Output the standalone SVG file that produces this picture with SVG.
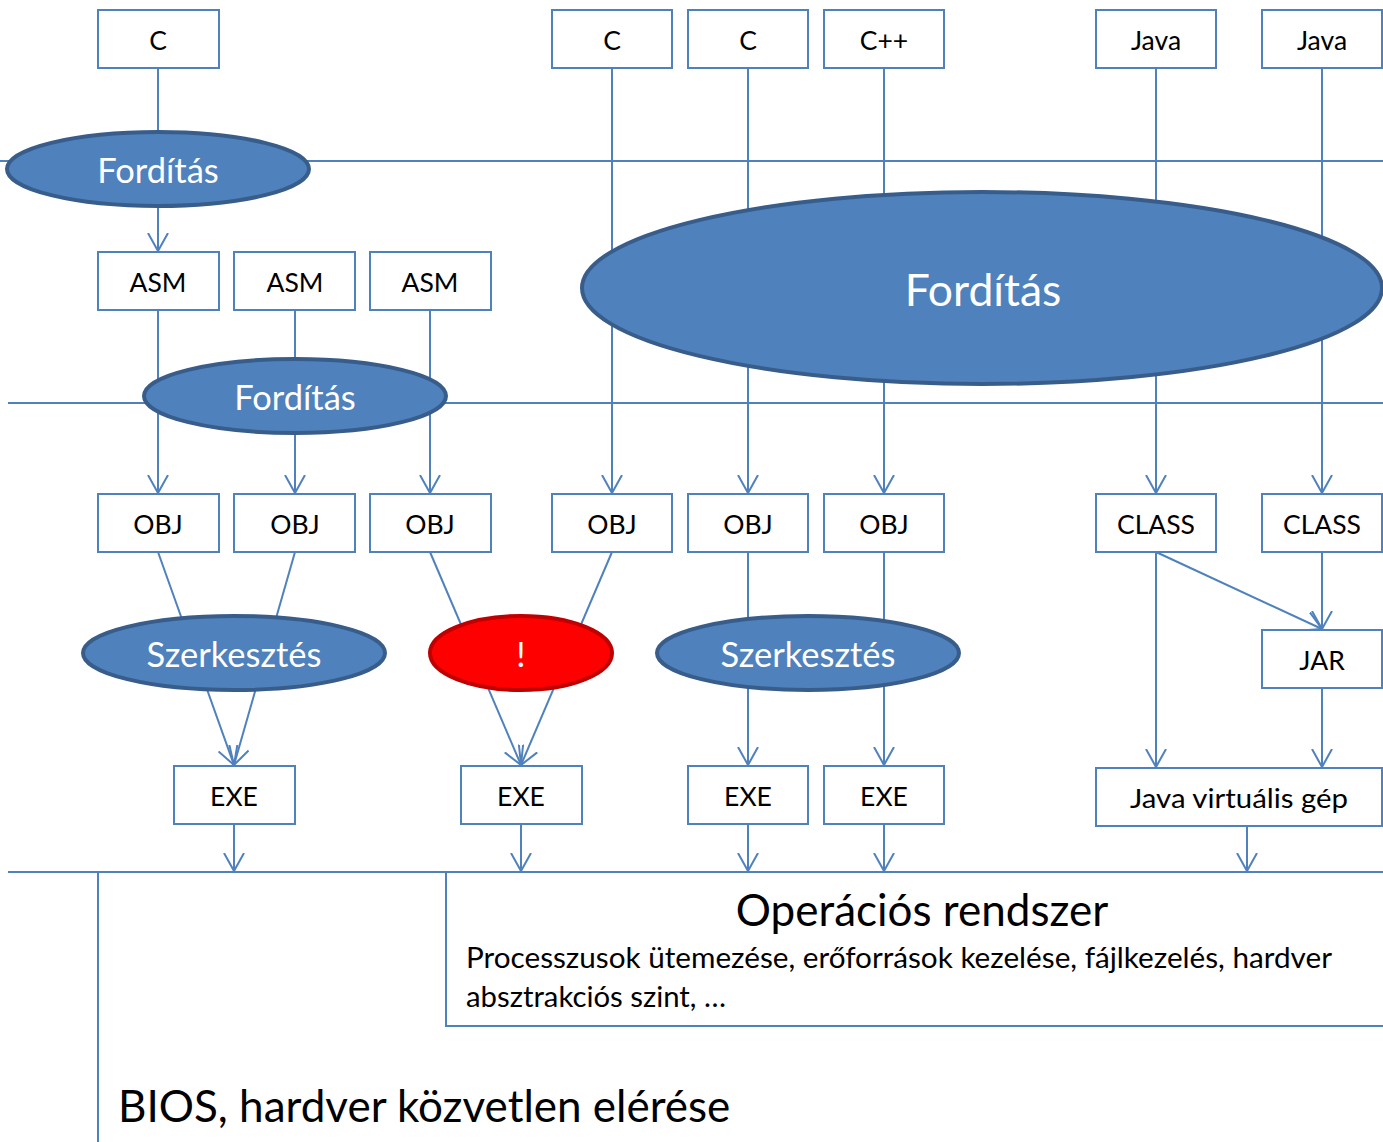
<svg xmlns="http://www.w3.org/2000/svg" width="1383" height="1142" viewBox="0 0 1383 1142">
<defs>
<style>
.box{fill:#fff;stroke:#4F81BD;stroke-width:2}
.bt{font-family:Lato,"Open Sans","Liberation Sans",sans-serif;font-size:26.5px;fill:#000;text-anchor:middle;dominant-baseline:central}
.el{fill:#4F81BD;stroke:#385D8A;stroke-width:4}
.red{fill:#FF0000;stroke:#C00000;stroke-width:4}
.et{font-family:Lato,"Open Sans","Liberation Sans",sans-serif;font-size:34.5px;fill:#fff;text-anchor:middle;dominant-baseline:central}
.ln{fill:none;stroke:#4F81BD;stroke-width:2}
.ar{fill:none;stroke:#4F81BD;stroke-width:2;marker-end:url(#a)}
.big{font-family:Lato,"Open Sans","Liberation Sans",sans-serif;fill:#000}
</style>
<marker id="a" viewBox="0 0 20 22" refX="18" refY="11" markerWidth="20" markerHeight="22" markerUnits="userSpaceOnUse" orient="auto">
<path d="M0,1 L18,11 L0,21" fill="none" stroke="#4F81BD" stroke-width="2"/>
</marker>
</defs>
<rect width="1383" height="1142" fill="#fff"/>
<g id="layers">
<line class="ln" x1="0" y1="161" x2="1383" y2="161"/>
<line class="ln" x1="8" y1="403" x2="1383" y2="403"/>
<line class="ln" x1="8" y1="872" x2="1383" y2="872"/>
<line class="ln" x1="98" y1="872" x2="98" y2="1142"/>
</g>
<g id="connectors">
<line class="ln" x1="158" y1="68" x2="158" y2="140"/>
<line class="ar" x1="158" y1="200" x2="158" y2="251"/>
<line class="ar" x1="158" y1="310" x2="158" y2="493"/>
<line class="ar" x1="295" y1="310" x2="295" y2="493"/>
<line class="ar" x1="430" y1="310" x2="430" y2="493"/>
<line class="ar" x1="612" y1="68" x2="612" y2="493"/>
<line class="ar" x1="748" y1="68" x2="748" y2="493"/>
<line class="ar" x1="884" y1="68" x2="884" y2="493"/>
<line class="ar" x1="1156" y1="68" x2="1156" y2="493"/>
<line class="ar" x1="1322" y1="68" x2="1322" y2="493"/>
<line class="ar" x1="158" y1="552" x2="234" y2="765"/>
<line class="ar" x1="295" y1="552" x2="234" y2="765"/>
<line class="ar" x1="430" y1="552" x2="521" y2="765"/>
<line class="ar" x1="612" y1="552" x2="521" y2="765"/>
<line class="ar" x1="748" y1="552" x2="748" y2="765"/>
<line class="ar" x1="884" y1="552" x2="884" y2="765"/>
<line class="ar" x1="1156" y1="552" x2="1156" y2="767"/>
<line class="ar" x1="1156" y1="552" x2="1322" y2="629"/>
<line class="ar" x1="1322" y1="552" x2="1322" y2="629"/>
<line class="ar" x1="1322" y1="688" x2="1322" y2="767"/>
<line class="ar" x1="234" y1="824" x2="234" y2="871"/>
<line class="ar" x1="521" y1="824" x2="521" y2="871"/>
<line class="ar" x1="748" y1="824" x2="748" y2="871"/>
<line class="ar" x1="884" y1="824" x2="884" y2="871"/>
<line class="ar" x1="1247" y1="826" x2="1247" y2="871"/>
</g>
<g id="forditas1"><ellipse class="el" cx="158" cy="169" rx="151" ry="37"/><text class="et" x="158" y="169">Fordítás</text></g>
<g id="forditas2"><ellipse class="el" cx="295" cy="396" rx="151" ry="37"/><text class="et" x="295" y="396">Fordítás</text></g>
<g id="forditas3"><ellipse class="el" cx="982" cy="288" rx="400" ry="96"/><text class="et" x="983" y="288" style="font-size:44.5px">Fordítás</text></g>
<g id="szerk1"><ellipse class="el" cx="234" cy="653" rx="151" ry="37"/><text class="et" x="234" y="653">Szerkesztés</text></g>
<g id="hiba"><ellipse class="red" cx="521" cy="653" rx="91" ry="37"/><text class="et" x="521" y="653">!</text></g>
<g id="szerk2"><ellipse class="el" cx="808" cy="653" rx="151" ry="37"/><text class="et" x="808" y="653">Szerkesztés</text></g>
<g id="c1"><rect class="box" x="98" y="10" width="121" height="58"/><text class="bt" x="158" y="40">C</text></g>
<g id="c2"><rect class="box" x="552" y="10" width="120" height="58"/><text class="bt" x="612" y="40">C</text></g>
<g id="c3"><rect class="box" x="688" y="10" width="120" height="58"/><text class="bt" x="748" y="40">C</text></g>
<g id="cpp"><rect class="box" x="824" y="10" width="120" height="58"/><text class="bt" x="884" y="40">C++</text></g>
<g id="java1"><rect class="box" x="1096" y="10" width="120" height="58"/><text class="bt" x="1156" y="40">Java</text></g>
<g id="java2"><rect class="box" x="1262" y="10" width="120" height="58"/><text class="bt" x="1322" y="40">Java</text></g>
<g id="asm1"><rect class="box" x="98" y="252" width="121" height="58"/><text class="bt" x="158" y="282">ASM</text></g>
<g id="asm2"><rect class="box" x="234" y="252" width="121" height="58"/><text class="bt" x="295" y="282">ASM</text></g>
<g id="asm3"><rect class="box" x="370" y="252" width="121" height="58"/><text class="bt" x="430" y="282">ASM</text></g>
<g id="obj1"><rect class="box" x="98" y="494" width="121" height="58"/><text class="bt" x="158" y="524">OBJ</text></g>
<g id="obj2"><rect class="box" x="234" y="494" width="121" height="58"/><text class="bt" x="295" y="524">OBJ</text></g>
<g id="obj3"><rect class="box" x="370" y="494" width="121" height="58"/><text class="bt" x="430" y="524">OBJ</text></g>
<g id="obj4"><rect class="box" x="552" y="494" width="120" height="58"/><text class="bt" x="612" y="524">OBJ</text></g>
<g id="obj5"><rect class="box" x="688" y="494" width="120" height="58"/><text class="bt" x="748" y="524">OBJ</text></g>
<g id="obj6"><rect class="box" x="824" y="494" width="120" height="58"/><text class="bt" x="884" y="524">OBJ</text></g>
<g id="class1"><rect class="box" x="1096" y="494" width="120" height="58"/><text class="bt" x="1156" y="524">CLASS</text></g>
<g id="class2"><rect class="box" x="1262" y="494" width="120" height="58"/><text class="bt" x="1322" y="524">CLASS</text></g>
<g id="jar"><rect class="box" x="1262" y="630" width="120" height="58"/><text class="bt" x="1322" y="660">JAR</text></g>
<g id="exe1"><rect class="box" x="174" y="766" width="121" height="58"/><text class="bt" x="234" y="796">EXE</text></g>
<g id="exe2"><rect class="box" x="461" y="766" width="121" height="58"/><text class="bt" x="521" y="796">EXE</text></g>
<g id="exe3"><rect class="box" x="688" y="766" width="120" height="58"/><text class="bt" x="748" y="796">EXE</text></g>
<g id="exe4"><rect class="box" x="824" y="766" width="120" height="58"/><text class="bt" x="884" y="796">EXE</text></g>
<g id="jvm"><rect class="box" x="1096" y="768" width="286" height="58"/><text class="bt" x="1239" y="798" textLength="218" lengthAdjust="spacingAndGlyphs">Java virtuális gép</text></g>
<g id="os">
<path class="ln" d="M1383,872 H446 V1026 H1383"/>
<text class="big" x="922" y="926" text-anchor="middle" font-size="44">Operációs rendszer</text>
<text class="big" x="466" y="968" font-size="28.5" textLength="866" lengthAdjust="spacingAndGlyphs">Processzusok ütemezése, erőforrások kezelése, fájlkezelés, hardver</text>
<text class="big" x="466" y="1007" font-size="28.5" textLength="260" lengthAdjust="spacingAndGlyphs">absztrakciós szint, …</text>
</g>
<g id="bios">
<text class="big" x="118" y="1122" font-size="44">BIOS, hardver közvetlen elérése</text>
</g>
</svg>
